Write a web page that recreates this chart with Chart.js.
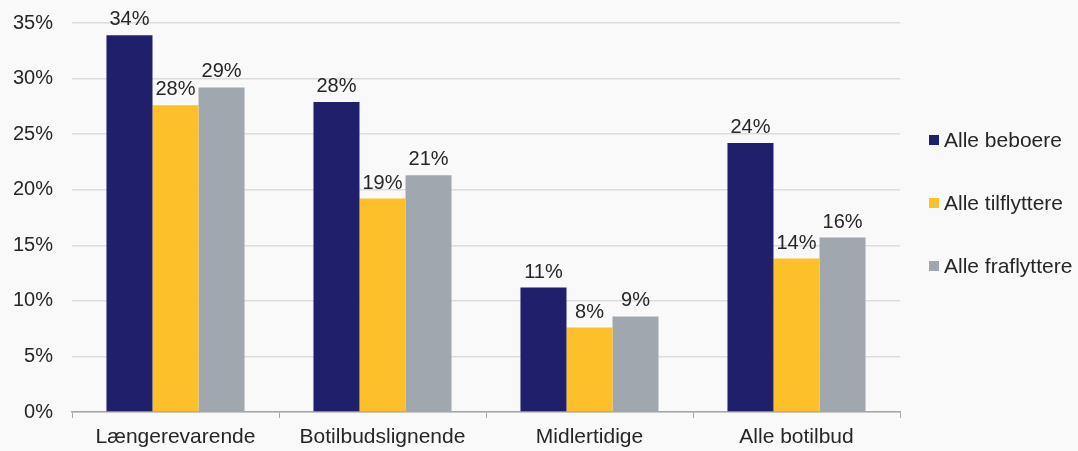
<!DOCTYPE html>
<html>
<head>
<meta charset="utf-8">
<script src="https://cdn.jsdelivr.net/npm/chart.js@4.4.0/dist/chart.umd.min.js"></script>
<style>
html,body{margin:0;padding:0;background:#f9f9f9;}
#wrap{width:1078px;height:451px;position:relative;}
</style>
</head>
<body>
<div id="wrap"><canvas id="c" width="1078" height="451"></canvas></div>
<script>
const categories = ['Længerevarende', 'Botilbudslignende', 'Midlertidige', 'Alle botilbud'];
const seriesNames = ['Alle beboere', 'Alle tilflyttere', 'Alle fraflyttere'];
const alleBeboere = [33.9, 27.9, 11.2, 24.2];
const alleTilflyttere = [27.6, 19.2, 7.6, 13.8];
const alleFraflyttere = [29.2, 21.3, 8.6, 15.7];
const seriesColors = ['#1f1f6b', '#fdc02b', '#a0a7af'];
const yTicks = [0, 5, 10, 15, 20, 25, 30, 35];

const FONT = '"Liberation Sans", Arial, sans-serif';
const TXT = '#262626';

const dataLabels = {
  id: 'dataLabels',
  afterDatasetsDraw(chart) {
    const ctx = chart.ctx;
    ctx.save();
    ctx.font = '20px ' + FONT;
    ctx.fillStyle = TXT;
    ctx.textAlign = 'center';
    ctx.textBaseline = 'alphabetic';
    chart.data.datasets.forEach((ds, i) => {
      chart.getDatasetMeta(i).data.forEach((bar, j) => {
        ctx.fillText(Math.round(ds.data[j]) + '%', bar.x, bar.y - 10);
      });
    });
    ctx.restore();
  }
};

const customLegend = {
  id: 'customLegend',
  afterDraw(chart) {
    const ctx = chart.ctx;
    ctx.save();
    ctx.font = '21px ' + FONT;
    ctx.fillStyle = TXT;
    ctx.textBaseline = 'middle';
    ctx.textAlign = 'left';
    const rows = [140, 203, 266];
    chart.data.datasets.forEach((ds, i) => {
      const y = rows[i];
      ctx.fillStyle = ds.backgroundColor;
      ctx.fillRect(929, y - 5, 10, 10);
      ctx.fillStyle = TXT;
      ctx.fillText(ds.label, 944, y + 1);
    });
    ctx.restore();
  }
};

new Chart(document.getElementById('c'), {
  type: 'bar',
  data: {
    labels: categories,
    datasets: [
      { label: seriesNames[0], data: alleBeboere, backgroundColor: seriesColors[0] },
      { label: seriesNames[1], data: alleTilflyttere, backgroundColor: seriesColors[1] },
      { label: seriesNames[2], data: alleFraflyttere, backgroundColor: seriesColors[2] }
    ]
  },
  options: {
    responsive: false,
    animation: false,
    layout: { padding: { top: 23, right: 178, left: 0, bottom: 0 } },
    datasets: { bar: { categoryPercentage: 0.667, barPercentage: 1.0 } },
    plugins: { legend: { display: false }, tooltip: { enabled: false } },
    scales: {
      x: {
        grid: { display: true, drawOnChartArea: false, drawTicks: true, tickLength: 6, color: '#a6a6a6', offset: true },
        border: { display: true, color: '#a6a6a6', width: 1.5 },
        ticks: { font: { family: FONT, size: 21 }, color: TXT, padding: 7 },
        afterFit(s) { s.height = 39; }
      },
      y: {
        min: 0, max: 35,
        afterBuildTicks(s) { s.ticks = yTicks.map(v => ({ value: v })); },
        grid: { color: '#dcdcdc', lineWidth: 1.5, drawTicks: true, tickLength: 19, tickColor: 'rgba(0,0,0,0)' },
        border: { display: false },
        ticks: { font: { family: FONT, size: 20 }, color: TXT, padding: 0, callback: v => v + '%' },
        afterFit(s) { s.width = 72; }
      }
    }
  },
  plugins: [dataLabels, customLegend]
});
</script>
</body>
</html>
